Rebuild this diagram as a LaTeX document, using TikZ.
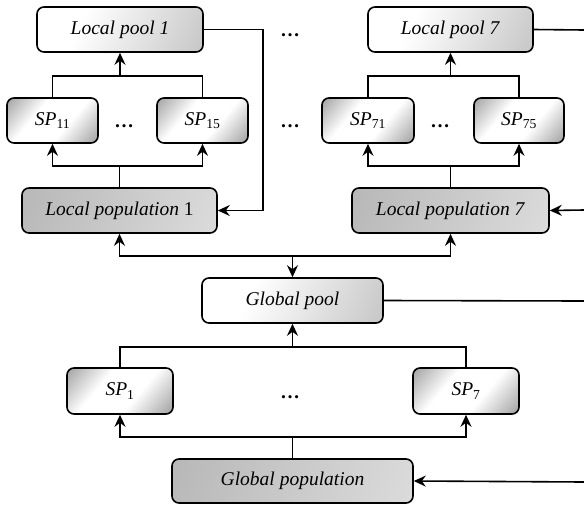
\documentclass[tikz,border=0pt]{standalone}
\usepackage{fontspec}
\setmainfont{Liberation Serif}
\usetikzlibrary{arrows.meta,calc}
\pgfdeclarehorizontalshading{poolshade}{100bp}{color(0bp)=(white); color(35bp)=(white); color(100bp)=(black!30)}
\pgfdeclarehorizontalshading{spshade}{100bp}{color(0bp)=(black!60); color(38bp)=(white); color(60bp)=(white); color(100bp)=(black!60)}
\pgfdeclarehorizontalshading{popshade}{100bp}{color(0bp)=(black!32); color(100bp)=(black!10)}
\tikzset{
  base/.style={draw=black, line width=1.6pt, rounded corners=7pt, minimum height=45pt, inner sep=0pt,
    font=\fontsize{19.5}{23}\selectfont},
  poolbox/.style={base, shading=poolshade, shading angle=-25},
  spbox/.style={base, shading=spshade, shading angle=-40},
  popbox/.style={base, shading=popshade, shading angle=-20},
  conn/.style={line width=1.6pt},
  arr/.style={line width=1.6pt, -{Stealth[length=12pt,width=11pt,inset=4pt]}},
  dotsn/.style={anchor=base, inner sep=0pt, font=\fontsize{19.5}{23}\selectfont}
}
\begin{document}
\begin{tikzpicture}[x=1pt,y=-1pt]
\useasboundingbox (0,0) rectangle (584,504);
% nodes
\node[poolbox, minimum width=166pt] (lp1) at (120,29.5) {\textit{Local pool 1}};
\node[poolbox, minimum width=165pt] (lp7) at (450.5,29.5) {\textit{Local pool 7}};
\node[spbox, minimum width=91pt] (sp11) at (52.5,120.5) {\textit{SP}\textsubscript{11}};
\node[spbox, minimum width=91pt] (sp15) at (202.5,120.5) {\textit{SP}\textsubscript{15}};
\node[spbox, minimum width=92pt] (sp71) at (368,120.5) {\textit{SP}\textsubscript{71}};
\node[spbox, minimum width=90pt] (sp75) at (519,120.5) {\textit{SP}\textsubscript{75}};
\node[popbox, minimum width=195pt] (pop1) at (119.5,210.5) {\textit{Local population} 1};
\node[popbox, minimum width=197pt] (pop7) at (450.5,210.5) {\textit{Local population 7}};
\node[poolbox, minimum width=181pt] (gpool) at (292.5,300.5) {\textit{Global pool}};
\node[spbox, minimum width=106pt, minimum height=46pt] (sp1) at (120,391) {\textit{SP}\textsubscript{1}};
\node[spbox, minimum width=106pt, minimum height=46pt] (sp7) at (466,391) {\textit{SP}\textsubscript{7}};
\node[popbox, minimum width=241pt, minimum height=44pt] (gpop) at (292.5,481) {\textit{Global population}};
% dots
\node[dotsn] (d1) at (290,36) {\textbf{\dots}};
\node[dotsn] (d2) at (290,127) {\textbf{\dots}};
\node[dotsn] (d3) at (124,127) {\textbf{\dots}};
\node[dotsn] (d4) at (440,127) {\textbf{\dots}};
\node[dotsn] (d5) at (290,398) {\textbf{\dots}};
% coordinates
\coordinate (e1) at (263,30);
\coordinate (edge1) at (584,30);
\coordinate (edge2) at (584,210);
\coordinate (edge3) at (584,301);
\coordinate (edge4) at (584,482);
% local group 1
\draw[arr] (lp1.east) -| (e1) |- (pop1.east);
\draw[conn] (pop1.north) -- (pop1.north |- 0,166);
\draw[arr] (pop1.north |- 0,166) -| (sp11.south);
\draw[arr] (pop1.north |- 0,166) -| (sp15.south);
\draw[conn] (sp11.north) |- (lp1.south |- 0,76) -| (sp15.north);
\draw[arr] (lp1.south |- 0,76) -- (lp1.south);
% local group 7
\draw[conn] (lp7.east) -- (edge1);
\draw[arr] (edge2) -- (pop7.east);
\draw[conn] (pop7.north) -- (pop7.north |- 0,166);
\draw[arr] (pop7.north |- 0,166) -| (sp71.south);
\draw[arr] (pop7.north |- 0,166) -| (sp75.south);
\draw[conn] (sp71.north) |- (lp7.south |- 0,76) -| (sp75.north);
\draw[arr] (lp7.south |- 0,76) -- (lp7.south);
% global pool links
\draw[arr] (gpool.north |- 0,256) -| (pop1.south);
\draw[arr] (gpool.north |- 0,256) -| (pop7.south);
\draw[arr] (gpool.north |- 0,256) -- (gpool.north);
\draw[conn] (gpool.east) -- (edge3);
\draw[conn] (sp1.north) |- (gpool.south |- 0,347) -| (sp7.north);
\draw[arr] (gpool.south |- 0,347) -- (gpool.south);
% global population
\draw[conn] (gpop.north) -- (gpop.north |- 0,437);
\draw[arr] (gpop.north |- 0,437) -| (sp1.south);
\draw[arr] (gpop.north |- 0,437) -| (sp7.south);
\draw[arr] (edge4) -- (gpop.east);
\end{tikzpicture}
\end{document}
